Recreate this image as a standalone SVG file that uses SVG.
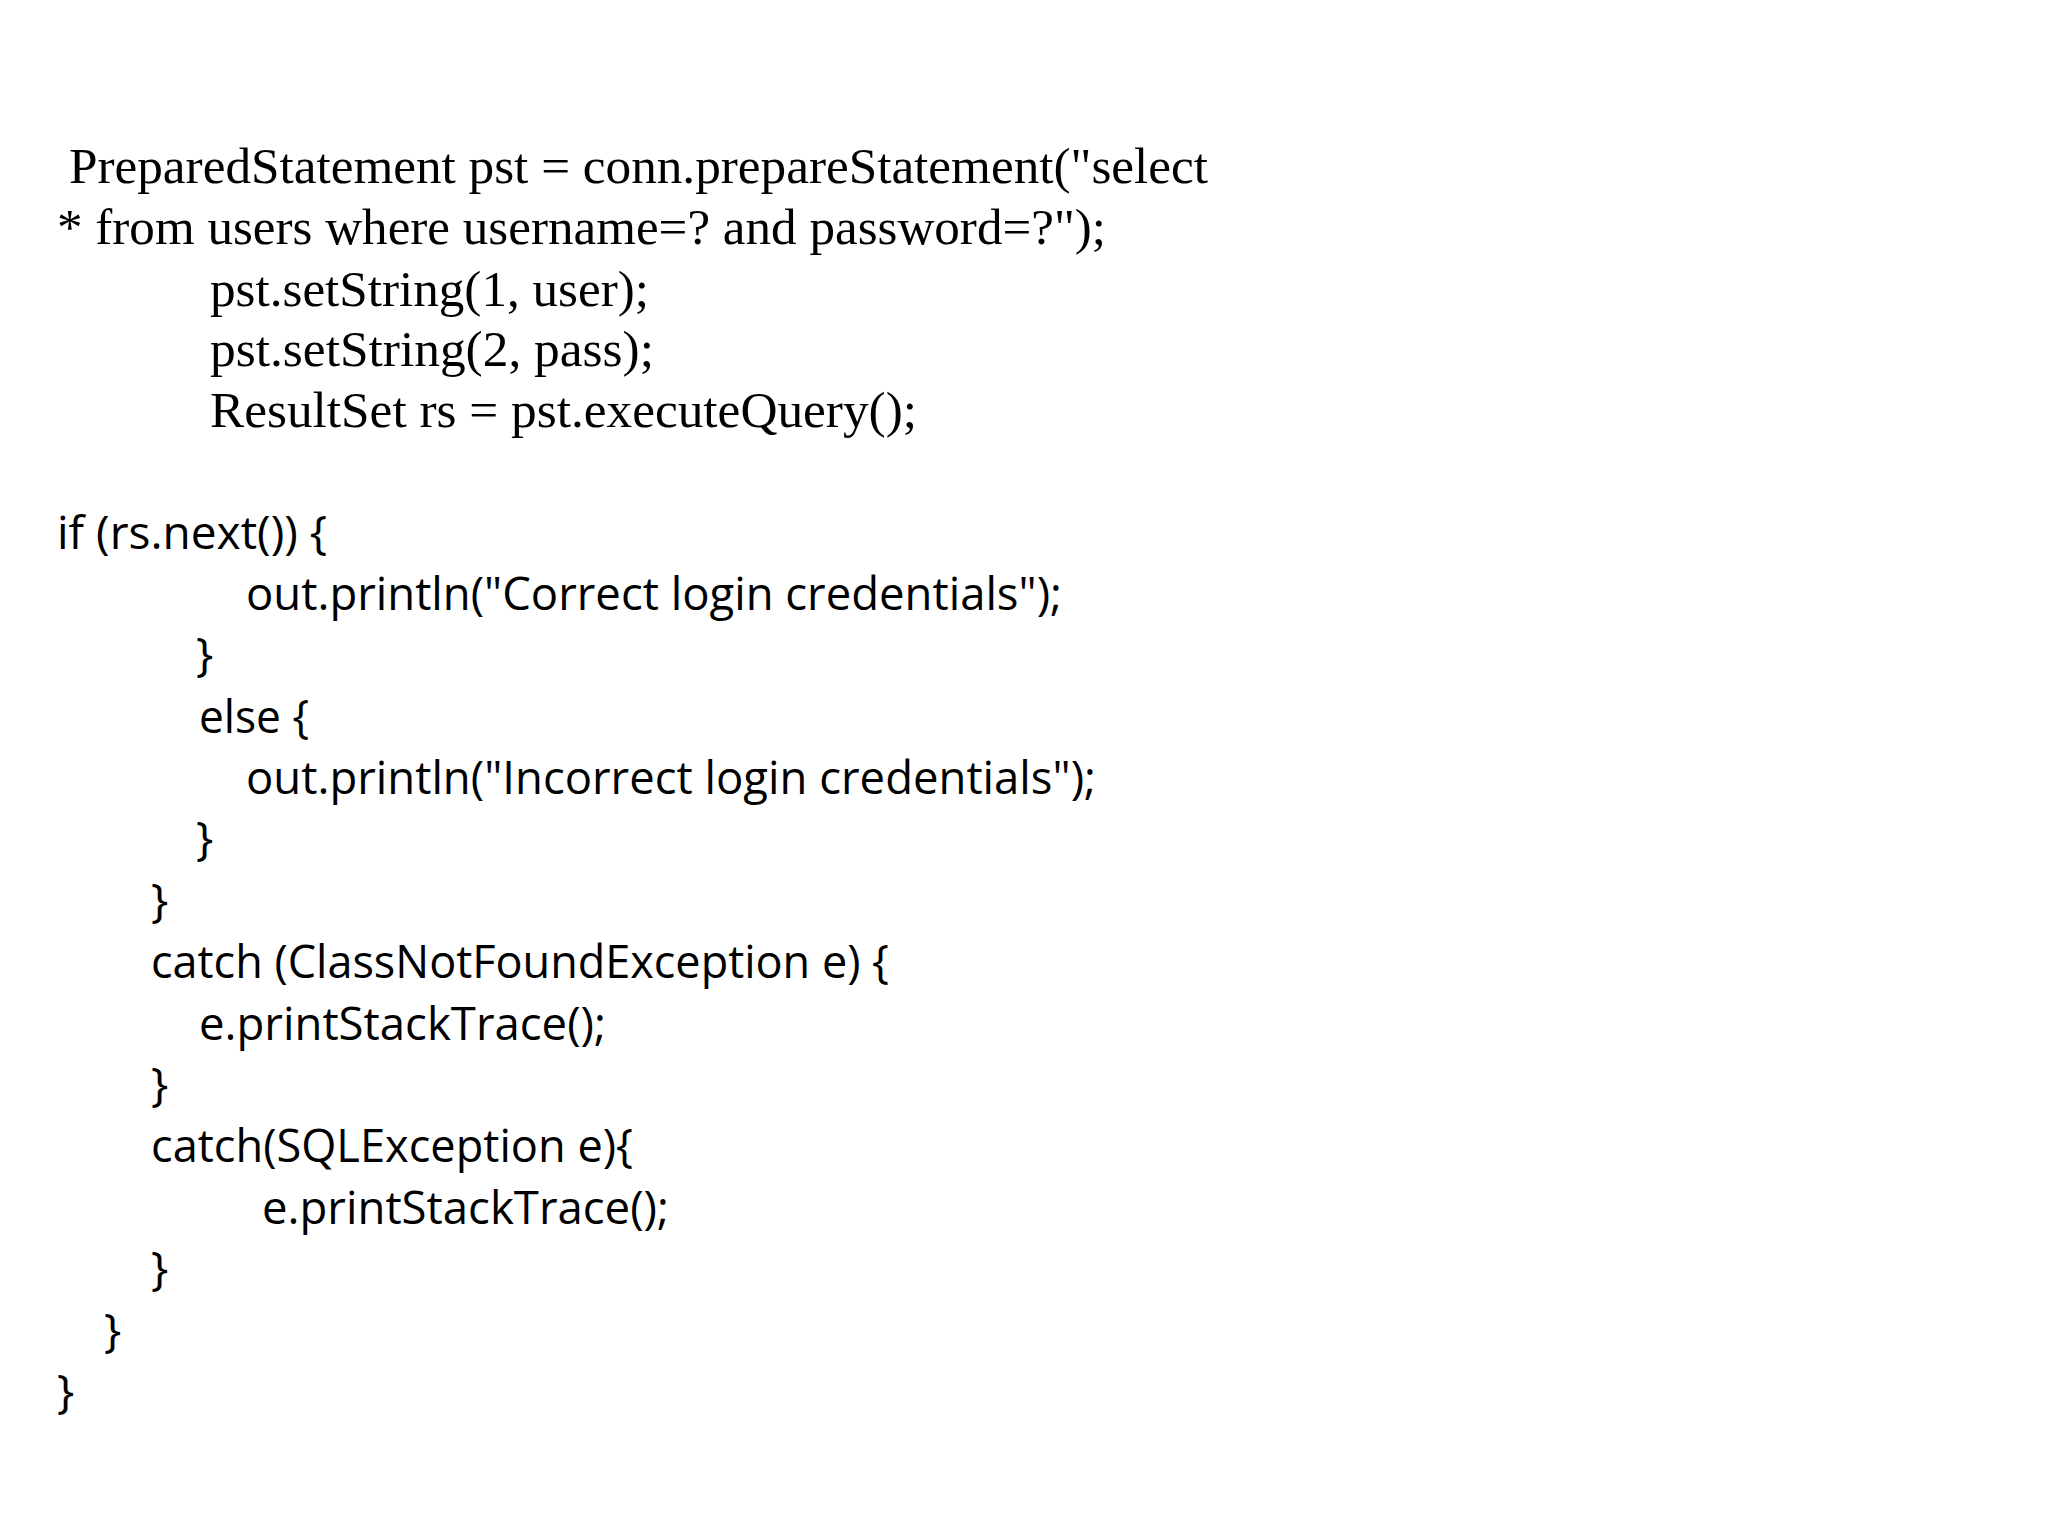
<svg xmlns="http://www.w3.org/2000/svg" width="2048" height="1536" viewBox="0 0 2048 1536">
<style>
.s{font-family:"Liberation Serif",serif;font-size:50px;fill:#000}
.c{font-family:"Open Sans","Liberation Sans",sans-serif;font-size:46px;fill:#000}
</style>
<rect width="2048" height="1536" fill="#fff"/>
<g id="code">
<text class="s" x="69" y="183" textLength="1139" lengthAdjust="spacingAndGlyphs">PreparedStatement pst = conn.prepareStatement("select</text>
<text class="s" x="57" y="244" textLength="1049" lengthAdjust="spacingAndGlyphs">* from users where username=? and password=?");</text>
<text class="s" x="210" y="306" textLength="439" lengthAdjust="spacingAndGlyphs">pst.setString(1, user);</text>
<text class="s" x="210" y="366" textLength="444" lengthAdjust="spacingAndGlyphs">pst.setString(2, pass);</text>
<text class="s" x="210" y="427" textLength="707" lengthAdjust="spacingAndGlyphs">ResultSet rs = pst.executeQuery();</text>
<text class="c" x="57" y="549" textLength="270" lengthAdjust="spacingAndGlyphs">if (rs.next()) {</text>
<text class="c" x="246" y="610" textLength="816" lengthAdjust="spacingAndGlyphs">out.println("Correct login credentials");</text>
<text class="c" x="196" y="671">}</text>
<text class="c" x="199" y="733" textLength="110" lengthAdjust="spacingAndGlyphs">else {</text>
<text class="c" x="246" y="794" textLength="850" lengthAdjust="spacingAndGlyphs">out.println("Incorrect login credentials");</text>
<text class="c" x="196" y="855">}</text>
<text class="c" x="151" y="917">}</text>
<text class="c" x="151" y="978" textLength="738" lengthAdjust="spacingAndGlyphs">catch (ClassNotFoundException e) {</text>
<text class="c" x="199" y="1040" textLength="407" lengthAdjust="spacingAndGlyphs">e.printStackTrace();</text>
<text class="c" x="151" y="1101">}</text>
<text class="c" x="151" y="1162" textLength="482" lengthAdjust="spacingAndGlyphs">catch(SQLException e){</text>
<text class="c" x="262" y="1224" textLength="407" lengthAdjust="spacingAndGlyphs">e.printStackTrace();</text>
<text class="c" x="151" y="1285">}</text>
<text class="c" x="104" y="1347">}</text>
<text class="c" x="57" y="1408">}</text>
</g>
</svg>
